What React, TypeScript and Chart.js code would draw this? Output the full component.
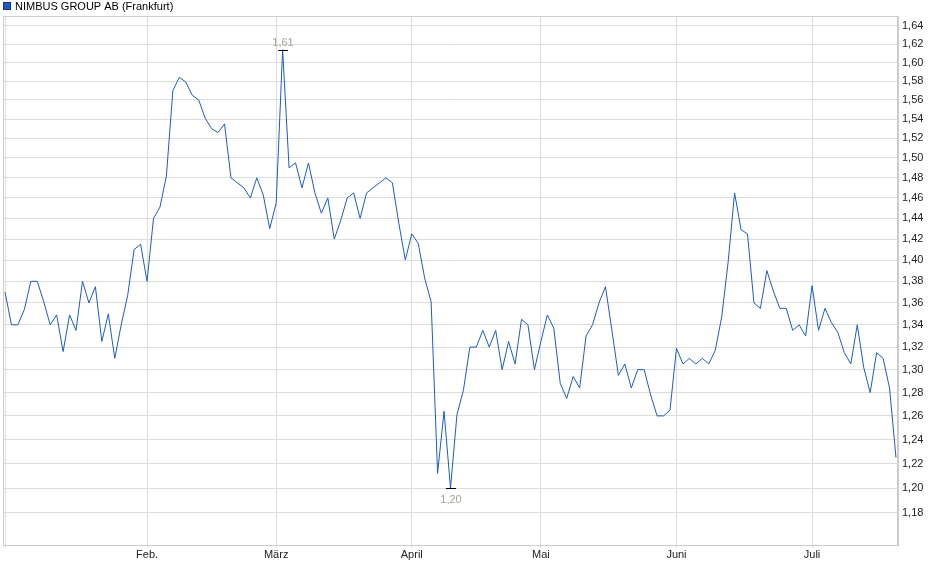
import { useEffect, useRef } from 'react';
import { Chart, registerables } from 'chart.js';

Chart.register(...registerables);

const seriesName = 'NIMBUS GROUP AB (Frankfurt)';

// one closing price per trading day, 02.01. to 18.07.
const prices = [
  1.370, 1.340, 1.340, 1.354, 1.380, 1.380, 1.361, 1.340, 1.349, 1.316,
  1.349, 1.335, 1.380, 1.360, 1.375, 1.325, 1.350, 1.310, 1.340, 1.367,
  1.410, 1.415, 1.380, 1.440, 1.451, 1.482, 1.570, 1.584, 1.579, 1.565,
  1.560, 1.541, 1.530, 1.526, 1.535, 1.480, 1.475, 1.470, 1.460, 1.480,
  1.463, 1.430, 1.455, 1.614, 1.490, 1.495, 1.470, 1.495, 1.465, 1.445,
  1.460, 1.420, 1.438, 1.460, 1.465, 1.440, 1.465, 1.470, 1.475, 1.480,
  1.475, 1.435, 1.400, 1.425, 1.416, 1.383, 1.361, 1.212, 1.264, 1.200,
  1.261, 1.282, 1.320, 1.320, 1.335, 1.320, 1.335, 1.300, 1.325, 1.305,
  1.345, 1.340, 1.300, 1.325, 1.349, 1.337, 1.288, 1.275, 1.294, 1.284,
  1.330, 1.340, 1.360, 1.375, 1.335, 1.295, 1.305, 1.284, 1.300, 1.300,
  1.278, 1.260, 1.260, 1.265, 1.319, 1.305, 1.310, 1.305, 1.310, 1.305,
  1.317, 1.347, 1.398, 1.465, 1.429, 1.425, 1.360, 1.355, 1.390, 1.371,
  1.355, 1.355, 1.335, 1.340, 1.330, 1.376, 1.335, 1.355, 1.342, 1.333,
  1.315, 1.305, 1.340, 1.302, 1.280, 1.315, 1.310, 1.284, 1.225,
];

// index of the first trading day of each month
const monthStarts = [0, 22, 42, 63, 83, 104, 125];
const monthLabels = ['', 'Feb.', 'März', 'April', 'Mai', 'Juni', 'Juli'];

const priceTicks = [
  1.18, 1.20, 1.22, 1.24, 1.26, 1.28, 1.30, 1.32, 1.34, 1.36, 1.38, 1.40,
  1.42, 1.44, 1.46, 1.48, 1.50, 1.52, 1.54, 1.56, 1.58, 1.60, 1.62, 1.64,
];

const Y_MIN = 1.1547;
const Y_MAX = 1.6511;

const LINE = '#1c5bc7';
const GRID = '#dddddd';
const FRAME = '#cccccc';

const fmt = (v: number) => v.toFixed(2).replace('.', ',');

const framePlugin = {
  id: 'frame',
  beforeDatasetsDraw(chart: any) {
    const { ctx, chartArea: a } = chart;
    ctx.save();
    ctx.strokeStyle = FRAME;
    ctx.lineWidth = 1;
    ctx.strokeRect(a.left + 0.5, a.top + 0.5, a.right - a.left - 1, a.bottom - a.top);
    ctx.restore();
  },
};

const legendPlugin = {
  id: 'legendBox',
  afterDraw(chart: any) {
    const { ctx } = chart;
    ctx.save();
    ctx.fillStyle = LINE;
    ctx.fillRect(3, 2, 8, 8);
    ctx.strokeStyle = '#15357a';
    ctx.lineWidth = 1;
    ctx.strokeRect(3.5, 2.5, 7, 7);
    ctx.fillStyle = '#000';
    ctx.font = "11px 'Liberation Sans', Arial, sans-serif";
    ctx.textBaseline = 'middle';
    ctx.fillText(seriesName, 15, 6.5);
    ctx.restore();
  },
};

const extremesPlugin = {
  id: 'extremes',
  afterDatasetsDraw(chart: any) {
    const { ctx, scales } = chart;
    let hi = 0;
    let lo = 0;
    prices.forEach((v, i) => {
      if (v > prices[hi]) hi = i;
      if (v < prices[lo]) lo = i;
    });
    ctx.save();
    ctx.font = "11px 'Liberation Sans', Arial, sans-serif";
    ctx.textAlign = 'center';
    ctx.textBaseline = 'middle';
    [
      { i: hi, dy: -8 },
      { i: lo, dy: 11 },
    ].forEach(({ i, dy }) => {
      const x = Math.round(scales.x.getPixelForValue(i));
      const y = Math.round(scales.y.getPixelForValue(prices[i])) + 0.5;
      ctx.strokeStyle = '#000';
      ctx.lineWidth = 1;
      ctx.beginPath();
      ctx.moveTo(x - 5, y);
      ctx.lineTo(x + 5, y);
      ctx.stroke();
      ctx.fillStyle = '#a8a198';
      ctx.fillText(fmt(prices[i]), x, y + dy);
    });
    ctx.restore();
  },
};

export default function App() {
  const chartRef = useRef<HTMLCanvasElement>(null);

  useEffect(() => {
    document.body.style.margin = '0';
    if (!chartRef.current) return;
    const ctx = chartRef.current.getContext('2d');
    if (!ctx) return;

    Chart.defaults.font.family = "'Liberation Sans', Arial, sans-serif";
    Chart.defaults.font.size = 11;

    const chart = new Chart(ctx, {
      type: 'line',
      data: {
        datasets: [{
          label: seriesName,
          data: prices.map((y, x) => ({ x, y })),
          borderColor: LINE,
          backgroundColor: LINE,
          borderWidth: 1,
          pointRadius: 0,
          tension: 0,
        }],
      },
      options: {
        animation: false,
        responsive: true,
        maintainAspectRatio: false,
        layout: { padding: { left: 3, top: 16, right: 0, bottom: 0 } },
        plugins: {
          legend: { display: false },
          tooltip: { enabled: false },
        },
        scales: {
          x: {
            type: 'linear',
            min: -0.31,
            max: prices.length - 1 + 0.31,
            afterBuildTicks: (axis: any) => {
              axis.ticks = monthStarts.map((value) => ({ value }));
            },
            afterFit: (axis: any) => {
              axis.height = 34;
            },
            ticks: {
              autoSkip: false,
              maxRotation: 0,
              padding: 0,
              color: '#222',
              callback: (value: any) => monthLabels[monthStarts.indexOf(Number(value))] ?? '',
            },
            grid: { color: GRID, tickLength: 3 },
            border: { color: FRAME },
          },
          y: {
            type: 'logarithmic',
            position: 'right',
            bounds: 'data',
            min: Y_MIN,
            max: Y_MAX,
            afterBuildTicks: (axis: any) => {
              axis.ticks = priceTicks.map((value) => ({ value }));
              axis.min = Y_MIN;
              axis.max = Y_MAX;
            },
            afterFit: (axis: any) => {
              axis.width = 42;
            },
            ticks: {
              padding: 4,
              color: '#222',
              callback: (value: any) => fmt(Number(value)),
            },
            grid: { color: GRID, drawTicks: false },
            border: { color: FRAME },
          },
        },
      },
      plugins: [framePlugin, legendPlugin, extremesPlugin],
    });

    return () => chart.destroy();
  }, []);

  return (
    <div style={{ position: 'relative', width: 940, height: 579 }}>
      <canvas ref={chartRef} />
    </div>
  );
}
